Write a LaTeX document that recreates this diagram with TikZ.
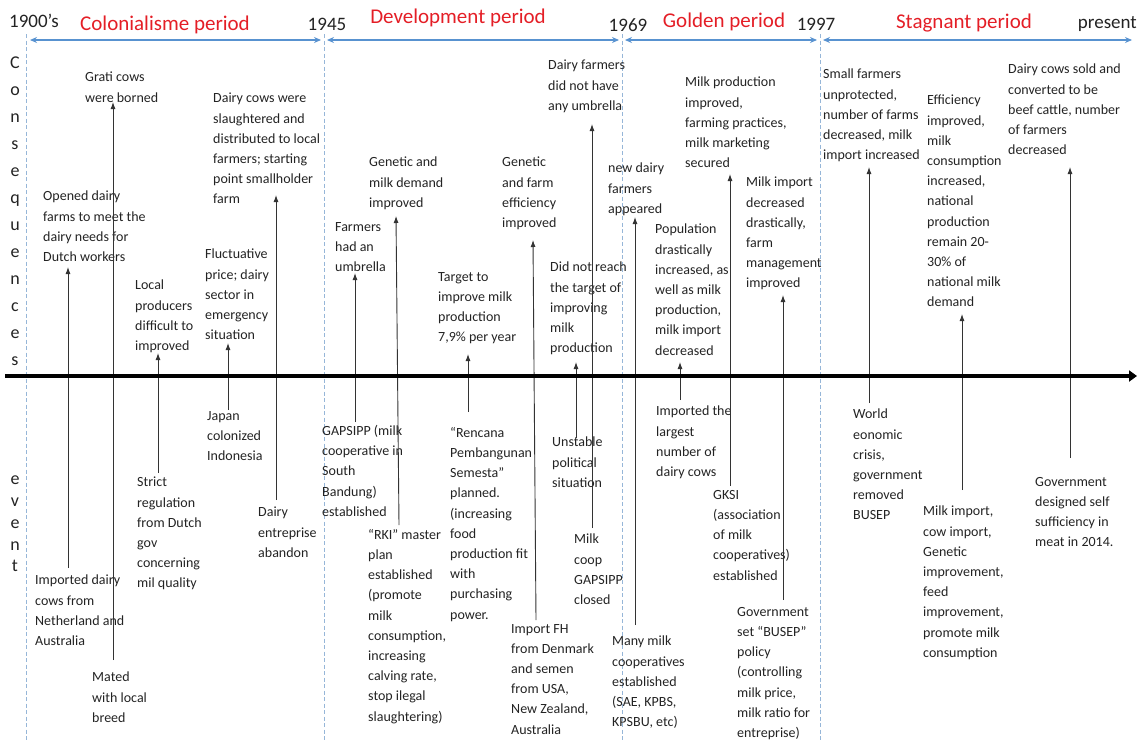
\documentclass[tikz,border=0pt]{standalone}
\usepackage{fontspec}
\setmainfont{Carlito}
\usetikzlibrary{arrows.meta}
\definecolor{titlered}{RGB}{228,30,38}
\definecolor{periodblue}{RGB}{88,146,208}
\definecolor{sepblue}{RGB}{150,182,216}
\definecolor{txt}{RGB}{35,35,35}
\begin{document}
\begin{tikzpicture}[x=1pt,y=-1pt,
  blk/.style={anchor=north west, inner sep=0pt, align=left, text=txt, font=\fontsize{14}{20.2}\selectfont, yshift=6pt},
  arw/.style={draw=black!80, line width=0.9pt, -{Latex[length=7pt,width=5pt]}},
  periodtitle/.style={anchor=base, inner sep=0pt, text=titlered, font=\fontsize{21}{25}\selectfont},
  yearlbl/.style={anchor=base, inner sep=0pt, text=txt, font=\fontsize{19}{23}\selectfont},
  sepline/.style={draw=sepblue, line width=0.8pt, dash pattern=on 4pt off 2.5pt},
  spanarrow/.style={draw=periodblue, line width=1.3pt, {Stealth[length=7pt,width=6pt]}-{Stealth[length=7pt,width=6pt]}},
  timeaxis/.style={line width=4pt, -{Triangle[length=8pt,width=11pt]}},
  vlet/.style={anchor=north, inner sep=0pt, align=center, text=txt}
]
\useasboundingbox (0,0) rectangle (1137,742);

% separators
\coordinate (s0t) at (26,34);   \coordinate (s0b) at (26,742);
\coordinate (s1t) at (324,34);  \coordinate (s1b) at (324,742);
\coordinate (s2t) at (622,34);  \coordinate (s2b) at (622,742);
\coordinate (s3t) at (820,34);  \coordinate (s3b) at (820,742);
\draw[sepline] (s0t) -- (s0b);
\draw[sepline] (s1t) -- (s1b);
\draw[sepline] (s2t) -- (s2b);
\draw[sepline] (s3t) -- (s3b);

% period spans
\coordinate (p0a) at (30,40);  \coordinate (p0b) at (321,40);
\coordinate (p1a) at (327,40); \coordinate (p1b) at (619,40);
\coordinate (p2a) at (625,40); \coordinate (p2b) at (817,40);
\coordinate (p3a) at (823,40); \coordinate (p3b) at (1132,40);
\draw[spanarrow] (p0a) -- (p0b);
\draw[spanarrow] (p1a) -- (p1b);
\draw[spanarrow] (p2a) -- (p2b);
\draw[spanarrow] (p3a) -- (p3b);

% years and titles
\node[yearlbl, anchor=base west] (y0) at (9,27) {1900’s};
\node[yearlbl] (y1) at (327,30) {1945};
\node[yearlbl] (y2) at (628,31) {1969};
\node[yearlbl] (y3) at (816,30) {1997};
\node[yearlbl, anchor=base east] (y4) at (1137,28) {present};
\node[periodtitle] (t0) at (165,30) {Colonialisme period};
\node[periodtitle] (t1) at (458,23) {Development period};
\node[periodtitle] (t2) at (724,27) {Golden period};
\node[periodtitle] (t3) at (964,28) {Stagnant period};

% side labels
\node[vlet, font=\fontsize{18}{27}\selectfont] (cons) at (15,57) {C\\o\\n\\s\\e\\q\\u\\e\\n\\c\\e\\s};
\node[vlet, font=\fontsize{18}{21.7}\selectfont] (evt) at (15,476) {e\\v\\e\\n\\t};

% consequences
\node[blk] (c1) at (85,78) {Grati cows\\were borned};
\node[blk] (c2) at (43,197) {Opened dairy\\farms to meet the\\dairy needs for\\Dutch workers};
\node[blk] (c3) at (135,286) {Local\\producers\\difficult to\\improved};
\node[blk] (c4) at (205,255) {Fluctuative\\price; dairy\\sector in\\emergency\\situation};
\node[blk] (c5) at (213,99) {Dairy cows were\\slaughtered and\\distributed to local\\farmers; starting\\point smallholder\\farm};
\node[blk] (c6) at (335,228) {Farmers\\had an\\umbrella};
\node[blk] (c7) at (369,163) {Genetic and\\milk demand\\improved};
\node[blk] (c8) at (502,163) {Genetic\\and farm\\efficiency\\improved};
\node[blk] (c9) at (438,278) {Target to\\improve milk\\production\\7,9\% per year};
\node[blk] (c10) at (548,66) {Dairy farmers\\did not have\\any umbrella};
\node[blk] (c11) at (550,268) {Did not reach\\the target of\\improving\\milk\\production};
\node[blk] (c12) at (608,169) {new dairy\\farmers\\appeared};
\node[blk] (c13) at (655,230) {Population\\drastically\\increased, as\\well as milk\\production,\\milk import\\decreased};
\node[blk] (c14) at (685,83) {Milk production\\improved,\\farming practices,\\milk marketing\\secured};
\node[blk] (c15) at (746,183) {Milk import\\decreased\\drastically,\\farm\\management\\improved};
\node[blk] (c16) at (823,75) {Small farmers\\unprotected,\\number of farms\\decreased, milk\\import increased};
\node[blk] (c17) at (927,101) {Efficiency\\improved,\\milk\\consumption\\increased,\\national\\production\\remain 20-\\30\% of\\national milk\\demand};
\node[blk] (c18) at (1008,70) {Dairy cows sold and\\converted to be\\beef cattle, number\\of farmers\\decreased};

% events
\node[blk] (e1) at (35,581) {Imported dairy\\cows from\\Netherland and\\Australia};
\node[blk] (e2) at (92,678) {Mated\\with local\\breed};
\node[blk] (e3) at (137,483) {Strict\\regulation\\from Dutch\\gov\\concerning\\mil quality};
\node[blk] (e4) at (207,417) {Japan\\colonized\\Indonesia};
\node[blk] (e5) at (258,513) {Dairy\\entreprise\\abandon};
\node[blk] (e6) at (322,431) {GAPSIPP (milk\\cooperative in\\South\\Bandung)\\established};
\node[blk] (e7) at (368,535) {“RKI” master\\plan\\established\\(promote\\milk\\consumption,\\increasing\\calving rate,\\stop ilegal\\slaughtering)};
\node[blk] (e8) at (511,630) {Import FH\\from Denmark\\and semen\\from USA,\\New Zealand,\\Australia};
\node[blk] (e9) at (450,433) {“Rencana\\Pembangunan\\Semesta”\\planned.\\(increasing\\food\\production fit\\with\\purchasing\\power.};
\node[blk] (e10) at (574,540) {Milk\\coop\\GAPSIPP\\closed};
\node[blk] (e11) at (552,443) {Unstable\\political\\situation};
\node[blk] (e12) at (612,642) {Many milk\\cooperatives\\established\\(SAE, KPBS,\\KPSBU, etc)};
\node[blk] (e13) at (656,412) {Imported the\\largest\\number of\\dairy cows};
\node[blk] (e14) at (713,496) {GKSI\\(association\\of milk\\cooperatives)\\established};
\node[blk] (e15) at (737,613) {Government\\set “BUSEP”\\policy\\(controlling\\milk price,\\milk ratio for\\entreprise)};
\node[blk] (e16) at (853,415) {World\\eonomic\\crisis,\\government\\removed\\BUSEP};
\node[blk] (e17) at (923,512) {Milk import,\\cow import,\\Genetic\\improvement,\\feed\\improvement,\\promote milk\\consumption};
\node[blk] (e18) at (1035,483) {Government\\designed self\\sufficiency in\\meat in 2014.};

% arrow ends
\coordinate (b1) at (113,660);  \coordinate (u1) at (113,102);
\coordinate (b2) at (68,568);   \coordinate (u2) at (68,267);
\coordinate (b3) at (158,473);  \coordinate (u3) at (158,353);
\coordinate (b4) at (228,410);  \coordinate (u4) at (228,343);
\coordinate (b5) at (276,500);  \coordinate (u5) at (276,195);
\coordinate (b6) at (355,422);  \coordinate (u6) at (355,273);
\coordinate (b7) at (399,525);  \coordinate (u7) at (396,216);
\coordinate (b8) at (536,620);  \coordinate (u8) at (533,240);
\coordinate (b9) at (468,412);  \coordinate (u9) at (468,354);
\coordinate (b10) at (592,528); \coordinate (u10) at (592,124);
\coordinate (b11) at (576,438); \coordinate (u11) at (576,362);
\coordinate (b12) at (635,625); \coordinate (u12) at (635,217);
\coordinate (b13) at (680,400); \coordinate (u13) at (680,362);
\coordinate (b14) at (730,486); \coordinate (u14) at (730,174);
\coordinate (b15) at (783,600); \coordinate (u15) at (783,295);
\coordinate (b16) at (869,403); \coordinate (u16) at (869,167);
\coordinate (b17) at (962,490); \coordinate (u17) at (962,314);
\coordinate (b18) at (1070,458);\coordinate (u18) at (1070,167);
\foreach \i in {1,...,18} {\draw[arw] (b\i) -- (u\i);}

% main time axis
\coordinate (ax0) at (5,376);
\coordinate (ax1) at (1137,376);
\draw[timeaxis] (ax0) -- (ax1);
\end{tikzpicture}
\end{document}
